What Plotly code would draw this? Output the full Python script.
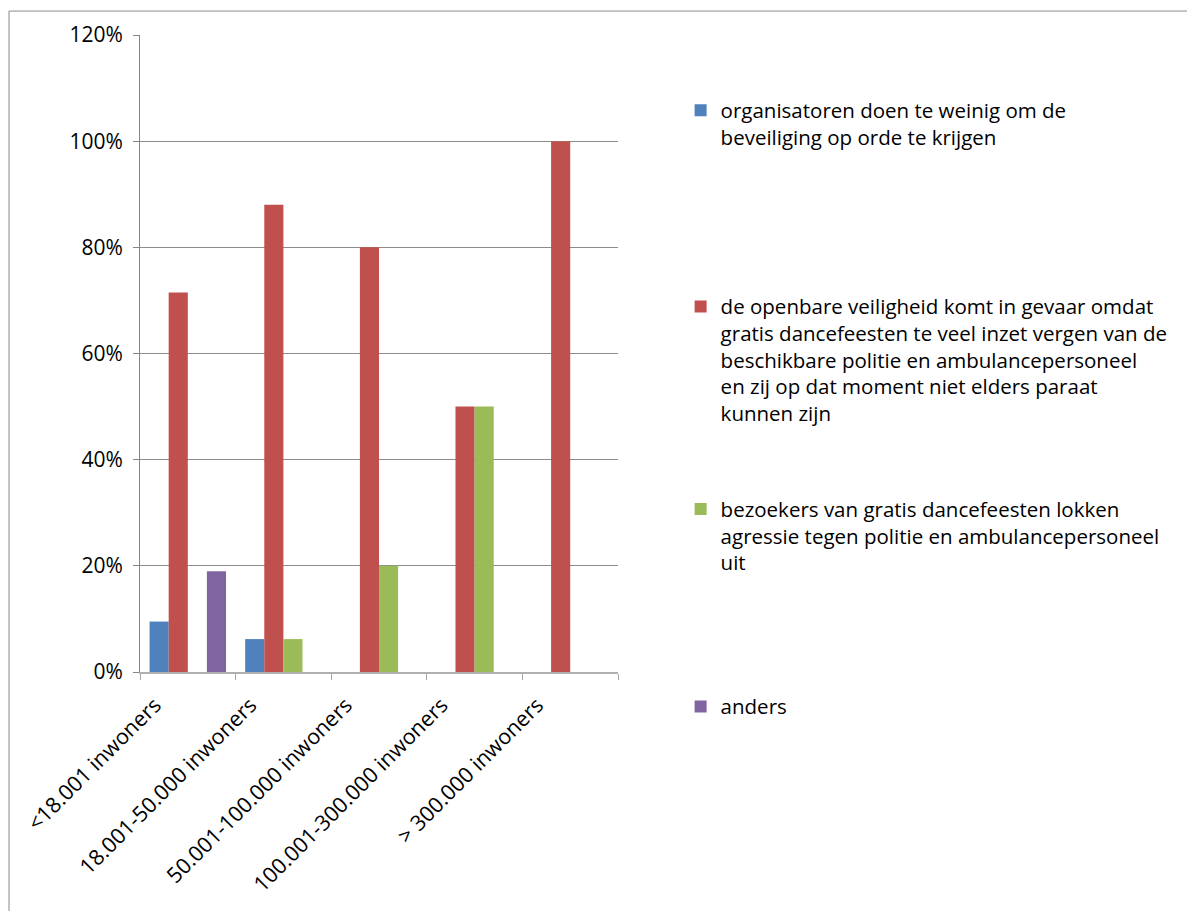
import plotly.graph_objects as go

categories = ["<18.001 inwoners", "18.001-50.000 inwoners", "50.001-100.000 inwoners",
              "100.001-300.000 inwoners", "> 300.000 inwoners"]
organisatoren = [0.095, 0.062, 0.0, 0.0, 0.0]
openbare_veiligheid = [0.715, 0.88, 0.80, 0.50, 1.00]
bezoekers = [0.0, 0.062, 0.20, 0.50, 0.0]
anders = [0.19, 0.0, 0.0, 0.0, 0.0]

names = [
    "organisatoren doen te weinig om de<br>beveiliging op orde te krijgen",
    "de openbare veiligheid komt in gevaar omdat<br>gratis dancefeesten te veel inzet vergen van de<br>"
    "beschikbare politie en ambulancepersoneel<br>en zij op dat moment niet elders paraat<br>kunnen zijn",
    "bezoekers van gratis dancefeesten lokken<br>agressie tegen politie en ambulancepersoneel<br>uit",
    "anders",
]
colors = ["#4F81BD", "#C0504D", "#9BBB59", "#8064A2"]
series = [organisatoren, openbare_veiligheid, bezoekers, anders]
legend_ids = ["legend", "legend2", "legend3", "legend4"]
legend_y = [0.913, 0.605, 0.287, -0.023]

FONT = "Open Sans, Liberation Sans, sans-serif"

fig = go.Figure()
for vals, name, col, lid in zip(series, names, colors, legend_ids):
    fig.add_trace(go.Bar(x=categories, y=vals, name=name, marker_color=col,
                         marker_line_width=0, legend=lid))

legend_common = dict(x=1.131, xanchor="left", yanchor="top", valign="top",
                     bgcolor="rgba(0,0,0,0)", font=dict(family=FONT, size=20.5, color="#000"))
layout_legends = {}
for lid, ly in zip(legend_ids, legend_y):
    layout_legends[lid] = dict(legend_common, y=ly)

fig.update_layout(
    width=1187, height=903,
    margin=dict(l=132, r=577, t=25, b=239),
    paper_bgcolor="white", plot_bgcolor="white",
    barmode="group", bargap=0.2, bargroupgap=0,
    showlegend=True,
    font=dict(family=FONT, size=20, color="#000"),
    xaxis=dict(type="category", tickangle=-45, tickson="boundaries", ticks="outside",
               ticklen=6, tickcolor="#a6a6a6", showline=True, linecolor="#b0b0b0",
               linewidth=2, showgrid=False, tickfont=dict(family=FONT, size=21.5),
               ticklabelshift=-33, ticklabelstandoff=10),
    yaxis=dict(range=[0, 1.2], dtick=0.2, tickformat=".0%", showgrid=True,
               gridcolor="#8c8c8c", gridwidth=1, zeroline=False, showline=True,
               linecolor="#868686", linewidth=1, ticks="outside", ticklen=6,
               tickcolor="#868686", tickfont=dict(family=FONT, size=21),
               ticklabelstandoff=6),
    shapes=[dict(type="rect", xref="paper", yref="paper",
                 x0=-0.274, x1=2.3, y0=-0.4, y1=1.0376,
                 line=dict(color="#8a8a8a", width=1), fillcolor="rgba(0,0,0,0)",
                 layer="below")],
    **layout_legends,
)

fig.write_html("out.html")
